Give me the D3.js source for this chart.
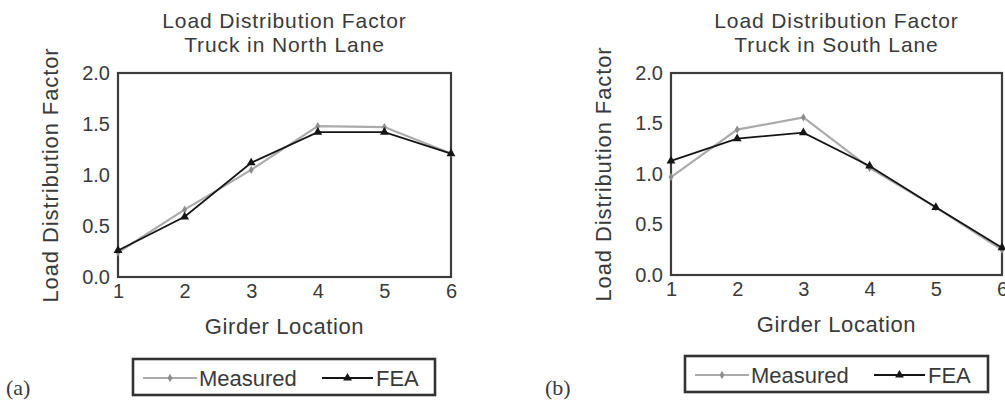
<!DOCTYPE html>
<html>
<head>
<meta charset="utf-8">
<script src="https://cdn.jsdelivr.net/npm/d3@7"></script>
<style>
  body { margin: 0; background: #fff; }
  svg { display: block; }
  text { font-family: "Liberation Sans", Arial, sans-serif; fill: #3a3a3a; }
</style>
</head>
<body>
<svg id="canvas" width="1005" height="403"></svg>
<script>
let girders = [1, 2, 3, 4, 5, 6];
let yTicks = [0, 0.5, 1.0, 1.5, 2.0];
let northMeasured = [0.24, 0.66, 1.05, 1.48, 1.47, 1.21];
let northFEA = [0.26, 0.59, 1.12, 1.42, 1.42, 1.21];
let southMeasured = [0.97, 1.44, 1.56, 1.06, 0.67, 0.25];
let southFEA = [1.13, 1.35, 1.41, 1.08, 0.67, 0.27];
let seriesNames = ['Measured', 'FEA'];

let svg = d3.select('#canvas');

// layout of the two panels
let panels = [
  { tag: '(a)', lane: 'Truck in North Lane', measured: northMeasured, fea: northFEA,
    left: 118, right: 451, top: 73, bottom: 277, tagX: 6,
    legend: { x: 133, y: 359, w: 302, h: 36 } },
  { tag: '(b)', lane: 'Truck in South Lane', measured: southMeasured, fea: southFEA,
    left: 671, right: 1002, top: 73, bottom: 275, tagX: 545,
    legend: { x: 685, y: 356, w: 303, h: 36 } }
];

let measuredColor = '#ababab';
let feaColor = '#151515';

function drawMarker(g, type, x, y, color) {
  if (type === 'FEA') {
    g.append('path')
      .attr('d', d3.symbol().type(d3.symbolTriangle).size(34)())
      .attr('transform', 'translate(' + x + ',' + y + ')')
      .attr('fill', color);
  } else {
    g.append('path')
      .attr('d', d3.symbol().type(d3.symbolDiamond).size(20)())
      .attr('transform', 'translate(' + x + ',' + y + ')')
      .attr('fill', color);
  }
}

panels.forEach(p => {
  let g = svg.append('g');
  let x = d3.scaleLinear().domain([1, 6]).range([p.left, p.right]);
  let y = d3.scaleLinear().domain([0, 2]).range([p.bottom, p.top]);
  let cx = (p.left + p.right) / 2;

  // titles
  g.append('text').attr('x', cx).attr('y', 28)
    .attr('text-anchor', 'middle').style('font-size', '21px').style('letter-spacing', '0.9px')
    .text('Load Distribution Factor');
  g.append('text').attr('x', cx).attr('y', 52)
    .attr('text-anchor', 'middle').style('font-size', '21px').style('letter-spacing', '0.9px')
    .text(p.lane);

  // axes
  let yAxis = g.append('g')
    .attr('transform', 'translate(' + p.left + ',0)')
    .call(d3.axisLeft(y).tickValues(yTicks).tickSize(0).tickPadding(8).tickFormat(d3.format('.1f')));
  let xAxis = g.append('g')
    .attr('transform', 'translate(0,' + p.bottom + ')')
    .call(d3.axisBottom(x).tickValues(girders).tickSize(0).tickPadding(7).tickFormat(d3.format('d')));
  [xAxis, yAxis].forEach(a => {
    a.select('.domain').remove();
    a.selectAll('text').style('font-size', '20px').attr('fill', '#3a3a3a');
  });

  // frame
  g.append('rect')
    .attr('x', x(1)).attr('y', y(2))
    .attr('width', x(6) - x(1)).attr('height', y(0) - y(2))
    .attr('fill', 'none').attr('stroke', '#3c3c3c').attr('stroke-width', 2.2);

  // axis labels
  g.append('text').attr('x', cx).attr('y', p.bottom + 57)
    .attr('text-anchor', 'middle').style('font-size', '22px').style('letter-spacing', '0.6px')
    .text('Girder Location');
  g.append('text')
    .attr('transform', 'translate(' + (p.left - 60) + ',' + ((p.top + p.bottom) / 2) + ') rotate(-90)')
    .attr('text-anchor', 'middle').style('font-size', '22px').style('letter-spacing', '0.9px')
    .text('Load Distribution Factor');

  // lines
  let line = d3.line().x((d, i) => x(girders[i])).y(d => y(d));
  g.append('path').datum(p.measured)
    .attr('d', line).attr('fill', 'none')
    .attr('stroke', measuredColor).attr('stroke-width', 2.2);
  p.measured.forEach((d, i) => drawMarker(g, 'Measured', x(girders[i]), y(d), '#8c8c8c'));
  g.append('path').datum(p.fea)
    .attr('d', line).attr('fill', 'none')
    .attr('stroke', feaColor).attr('stroke-width', 1.8);
  p.fea.forEach((d, i) => drawMarker(g, 'FEA', x(girders[i]), y(d), feaColor));

  // legend
  let L = p.legend;
  let lg = g.append('g').attr('transform', 'translate(' + L.x + ',' + L.y + ')');
  lg.append('rect').attr('width', L.w).attr('height', L.h)
    .attr('fill', '#fff').attr('stroke', '#333').attr('stroke-width', 2.6);
  let ly = L.h / 2 + 1;
  let items = [
    { name: seriesNames[0], color: measuredColor, mk: '#8c8c8c', x0: 10, x1: 64, tx: 66 },
    { name: seriesNames[1], color: feaColor, mk: feaColor, x0: 189, x1: 240, tx: 243 }
  ];
  items.forEach(it => {
    lg.append('line').attr('x1', it.x0).attr('x2', it.x1).attr('y1', ly).attr('y2', ly)
      .attr('stroke', it.color).attr('stroke-width', 2);
    drawMarker(lg, it.name, (it.x0 + it.x1) / 2, ly, it.mk);
    lg.append('text').attr('x', it.tx).attr('y', ly + 8)
      .style('font-size', '22px').text(it.name);
  });

  // panel tag
  g.append('text').attr('x', p.tagX).attr('y', 395)
    .style('font-family', '"Liberation Serif", "Times New Roman", serif')
    .style('font-size', '22px').attr('fill', '#222')
    .text(p.tag);
});
</script>
</body>
</html>
